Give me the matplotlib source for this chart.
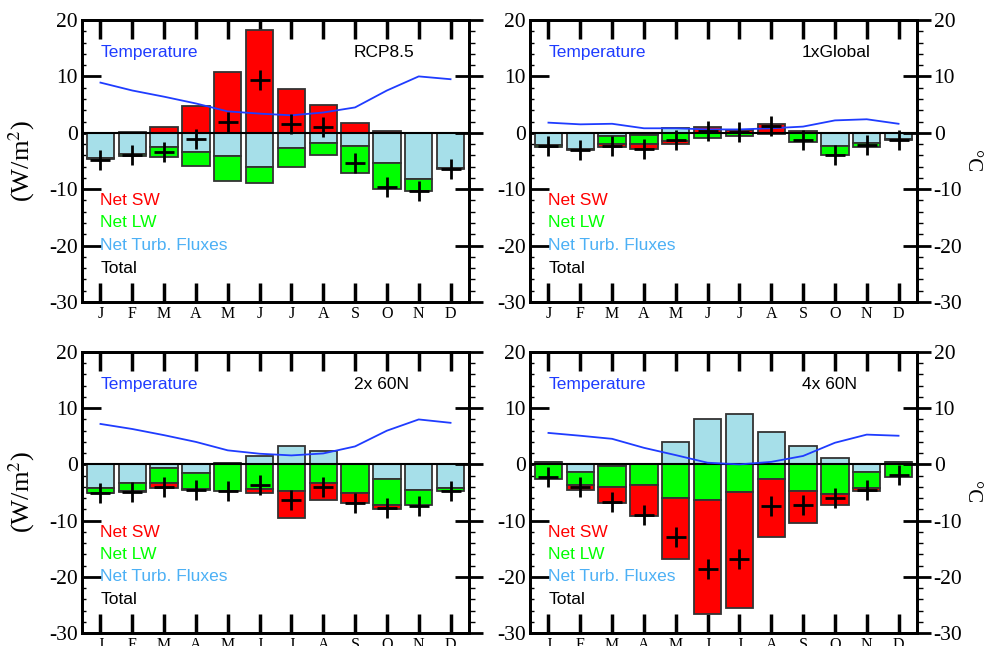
import matplotlib
matplotlib.use("Agg")
import matplotlib.pyplot as plt
import numpy as np
from matplotlib.ticker import MultipleLocator

plt.rcParams['font.family'] = ['Liberation Serif', 'DejaVu Serif']
plt.rcParams['mathtext.fontset'] = 'stix'
plt.rcParams['axes.unicode_minus'] = False

months = ['J', 'F', 'M', 'A', 'M', 'J', 'J', 'A', 'S', 'O', 'N', 'D']

# ---- RCP8.5 ----
sw_rcp = [0.0, 0.2, 1.0, 4.7, 10.8, 18.3, 7.7, 5.0, 1.7, 0.4, 0.0, 0.0]
lw_rcp = [-0.1, -0.5, -1.8, -2.4, -4.4, -2.8, -3.4, -2.1, -4.7, -4.6, -2.1, -0.1]
turb_rcp = [-4.5, -3.7, -2.5, -3.4, -4.2, -6.1, -2.7, -1.8, -2.4, -5.3, -8.2, -6.3]
total_rcp = [-4.8, -3.9, -3.4, -1.1, 2.0, 9.3, 1.6, 1.1, -5.3, -9.6, -10.3, -6.4]
temp_rcp = [8.9, 7.5, 6.4, 5.2, 3.8, 3.4, 3.1, 3.6, 4.5, 7.5, 10.0, 9.5]

# ---- 1xGlobal ----
sw_glob = [0.0, 0.0, -0.5, -1.0, -0.6, 1.1, 0.5, 1.6, 0.35, 0.0, 0.0, 0.0]
lw_glob = [-0.4, -0.2, -1.3, -1.5, -1.4, -0.9, -0.5, 0.0, -1.6, -1.6, -0.7, -0.3]
turb_glob = [-2.1, -2.9, -0.65, -0.45, 0.9, 0.0, 0.0, -0.3, 0.0, -2.4, -1.8, -1.05]
total_glob = [-2.4, -3.0, -2.4, -2.8, -1.2, 0.3, 0.1, 1.2, -1.2, -4.0, -2.2, -1.2]
temp_glob = [1.8, 1.5, 1.6, 0.8, 0.8, 0.6, 0.6, 0.8, 1.1, 2.2, 2.4, 1.6]

# ---- 2x 60N ----
sw_2x = [-0.1, -0.3, -0.95, -0.2, 0.0, -0.7, -4.9, -3.0, -1.9, -0.7, 0.0, 0.0]
lw_2x = [-0.9, -1.4, -2.55, -2.85, -4.8, -4.3, -4.7, -3.25, -5.0, -4.55, -2.6, -0.65]
turb_2x = [-4.15, -3.3, -0.7, -1.55, 0.25, 1.5, 3.25, 2.3, 0.0, -2.65, -4.55, -4.15]
total_2x = [-5.1, -4.9, -4.1, -4.5, -4.7, -3.7, -6.4, -4.0, -6.8, -7.8, -7.4, -4.7]
temp_2x = [7.2, 6.3, 5.2, 4.0, 2.5, 1.9, 1.6, 1.95, 3.2, 6.0, 8.0, 7.4]

# ---- 4x 60N ----
sw_4x = [0.0, -0.9, -2.85, -5.5, -10.85, -20.4, -20.75, -10.45, -5.7, -1.9, -0.45, 0.0]
lw_4x = [-2.55, -2.3, -3.7, -3.6, -5.9, -6.25, -4.85, -2.55, -4.65, -5.25, -2.9, -2.25]
turb_4x = [0.4, -1.3, -0.25, 0.15, 3.95, 8.1, 8.95, 5.75, 3.3, 1.1, -1.3, 0.5]
total_4x = [-2.2, -4.1, -6.7, -9.0, -13.0, -18.6, -16.8, -7.4, -7.2, -6.0, -4.6, -1.8]
temp_4x = [5.6, 5.1, 4.55, 2.95, 1.65, 0.3, 0.0, 0.45, 1.5, 3.85, 5.3, 5.1]

panels = [
    ("RCP8.5", sw_rcp, lw_rcp, turb_rcp, total_rcp, temp_rcp),
    ("1xGlobal", sw_glob, lw_glob, turb_glob, total_glob, temp_glob),
    ("2x 60N", sw_2x, lw_2x, turb_2x, total_2x, temp_2x),
    ("4x 60N", sw_4x, lw_4x, turb_4x, total_4x, temp_4x),
]

C_SW = '#ff0000'
C_LW = '#00ff00'
C_TURB = '#a6dfe9'
C_TURB_TXT = '#4cb0f5'
C_TEMP = '#1f3cff'
EDGE = '#333333'

W, H = 987, 646
fig = plt.figure(figsize=(W / 100, H / 100), dpi=100)

# axes boxes in pixels: (left, top, right, bottom)
boxes = [(82, 20, 469, 302), (530, 20, 917, 302),
         (82, 352, 469, 633), (530, 352, 917, 633)]

x = np.arange(1, 13)
sans = ['Liberation Sans', 'DejaVu Sans']

for i, (title, sw, lw, turb, total, temp) in enumerate(panels):
    l, t, r, b = boxes[i]
    ax = fig.add_axes([l / W, 1 - b / H, (r - l) / W, (b - t) / H])
    ax2 = ax.twinx()
    is_right = (i % 2 == 1)

    pos_base = np.zeros(12)
    neg_base = np.zeros(12)
    for vals, col in ((turb, C_TURB), (lw, C_LW), (sw, C_SW)):
        v = np.array(vals, dtype=float)
        bottoms = np.where(v >= 0, pos_base, neg_base)
        ax.bar(x, v, bottom=bottoms, width=0.86, color=col, edgecolor=EDGE,
               linewidth=1.3, zorder=2)
        pos_base = pos_base + np.where(v >= 0, v, 0)
        neg_base = neg_base + np.where(v < 0, v, 0)

    ax.axhline(0, color='black', lw=1.5, zorder=3)

    ax2.plot(x, temp, color=C_TEMP, lw=1.3, zorder=4)
    ax2.plot(x, total, '+', color='black', ms=15, mew=2, zorder=5)

    for a in (ax, ax2):
        a.set_ylim(-30, 20)
        a.set_xlim(0.42, 12.58)
        a.yaxis.set_major_locator(MultipleLocator(10))
        a.yaxis.set_minor_locator(MultipleLocator(2))
    for s in ax.spines.values():
        s.set_linewidth(2)
    for s in ax2.spines.values():
        s.set_linewidth(2)

    ax.set_xticks(x)
    ax.set_xticklabels(months)
    ax.tick_params(axis='x', which='major', direction='in', length=14, width=2.5,
                   top=True, bottom=True, labelsize=11.5, pad=3)
    ax.tick_params(axis='y', which='major', direction='in', length=14, width=2,
                   left=True, right=False, labelsize=15.5, pad=3)
    ax.tick_params(axis='y', which='minor', direction='in', length=3, width=1,
                   left=True, right=False)
    ax2.tick_params(axis='y', which='major', direction='inout', length=20, width=2,
                    right=True, labelright=is_right, labelsize=15.5, pad=2)
    ax2.tick_params(axis='y', which='minor', direction='out', length=4, width=1)

    ax.text(0.047, 0.884, "Temperature", color=C_TEMP, fontsize=12.5,
            family=sans, transform=ax.transAxes, va='center', ha='left')
    ax.text(0.703, 0.884, title, color='black', fontsize=12.5,
            family=sans, transform=ax.transAxes, va='center', ha='left')
    for txt, col, yy in (("Net SW", C_SW, 0.359), ("Net LW", C_LW, 0.281),
                         ("Net Turb. Fluxes", C_TURB_TXT, 0.200),
                         ("Total", 'black', 0.118)):
        ax.text(0.047, yy, txt, color=col, fontsize=12.5, family=sans,
                transform=ax.transAxes, va='center', ha='left')

    yc = 1 - (t + b) / 2 / H
    if not is_right:
        fig.text(22 / W, yc, r'(W/m$^2$)', rotation=90, fontsize=19,
                 ha='center', va='center')
    else:
        fig.text(972 / W, yc, '°C', rotation=270, fontsize=15,
                 ha='center', va='center')

fig.savefig('out.png', dpi=100)
